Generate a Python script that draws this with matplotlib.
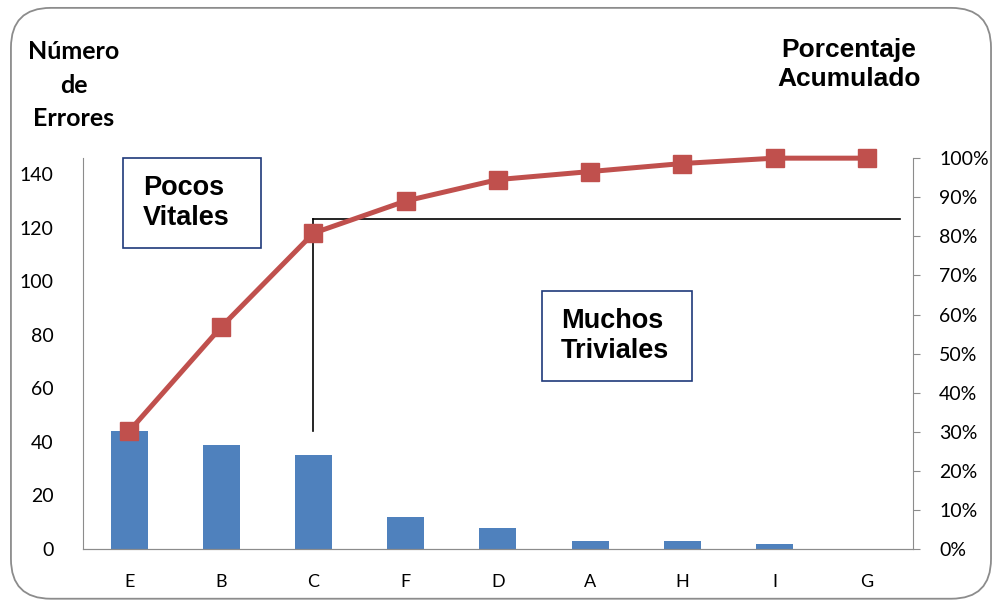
import numpy as np
import matplotlib.pyplot as plt
from matplotlib.patches import FancyBboxPatch, Rectangle
from matplotlib.ticker import PercentFormatter

categorias = ['E', 'B', 'C', 'F', 'D', 'A', 'H', 'I', 'G']
errores = [44, 39, 35, 12, 8, 3, 3, 2, 0]
total = 146
acumulado = np.cumsum(errores) / total
corte = 0.845  # linea de 80/20 aprox.

fig = plt.figure(figsize=(9.95, 6.06), dpi=100)
ax = fig.add_axes([0.0834, 0.094, 0.834, 0.645])
ax2 = ax.twinx()

# marco redondeado
marco = FancyBboxPatch((0.011, 0.012), 0.985, 0.975, boxstyle="round,pad=0,rounding_size=0.04",
                       transform=fig.transFigure, fill=False, edgecolor='#8c8c8c', lw=1.3,
                       mutation_aspect=995/606)
fig.patches.append(marco)

x = np.arange(len(categorias))
ax.bar(x, errores, width=0.4, color='#4F81BD', zorder=2)
ax.set_xlim(-0.5, len(categorias) - 0.5)
ax.set_ylim(0, total)
ax.set_yticks(range(0, 141, 20))
ax.set_xticks(x)
ax.set_xticklabels(categorias)

ax2.plot(x, acumulado, color='#C0504D', lw=3.6, marker='s', markersize=13, zorder=3, clip_on=False)
ax2.set_ylim(0, 1)
ax2.set_yticks(np.arange(0, 1.01, 0.1))
ax2.yaxis.set_major_formatter(PercentFormatter(1.0, decimals=0))

# linea de corte
ax2.plot([2, 2], [acumulado[0], corte], color='black', lw=1.2)
ax2.plot([2, 8.36], [corte, corte], color='black', lw=1.2)

for a in (ax, ax2):
    a.spines['top'].set_visible(False)
    a.spines['left'].set_color('#8c8c8c')
    a.spines['right'].set_color('#8c8c8c')
    a.spines['bottom'].set_color('#8c8c8c')
ax.spines['right'].set_visible(False)
ax2.spines['left'].set_visible(False)

ax.tick_params(axis='y', length=0, labelsize=14, pad=21)
ax.tick_params(axis='x', length=0, labelsize=13, pad=18)
ax2.tick_params(axis='y', length=5, color='#8c8c8c', labelsize=14, pad=14)
for lbl in ax.get_xticklabels() + ax.get_yticklabels() + ax2.get_yticklabels():
    lbl.set_family('Lato')

fig.text(0.074, 0.859, 'Número\nde\nErrores', ha='center', va='center', fontsize=18,
         fontweight='bold', family='Lato', linespacing=1.55)
fig.text(0.853, 0.893, 'Porcentaje\nAcumulado', ha='center', va='center', fontsize=19,
         fontweight='bold', family='Liberation Sans', linespacing=1.25)

# cuadros de texto
for (bx, by, tx, ty, txt) in [(0.048, 0.770, 0.072, 0.886, 'Pocos\nVitales'),
                              (0.553, 0.430, 0.576, 0.545, 'Muchos\nTriviales')]:
    w = 0.166 if txt.startswith('Pocos') else 0.181
    ax2.add_patch(Rectangle((bx, by), w, 0.230, transform=ax2.transAxes, fc='white',
                            ec='#1F3A7A', lw=1.2, zorder=4, clip_on=False))
    ax2.text(tx, ty, txt, transform=ax2.transAxes, ha='left', va='center', fontsize=19.5,
             fontweight='bold', family='Liberation Sans', linespacing=1.2, zorder=5)

fig.savefig('out.png', dpi=100)
